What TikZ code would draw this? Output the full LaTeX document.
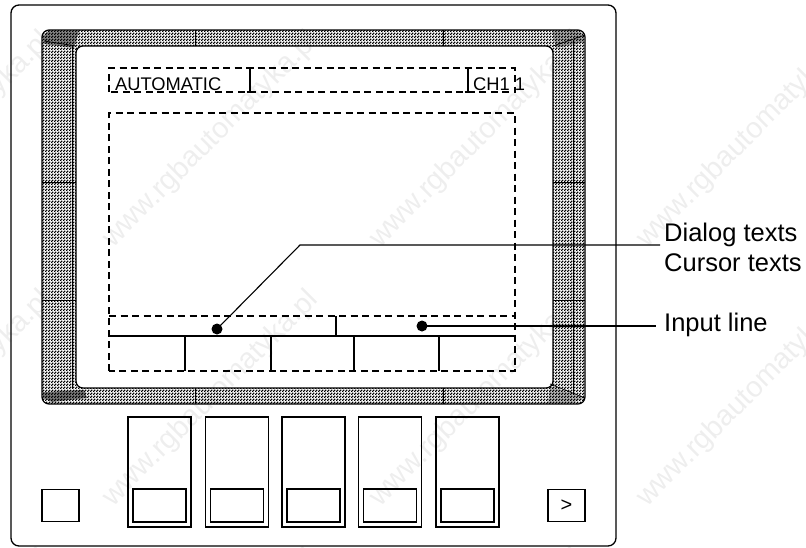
\documentclass[tikz,border=0pt]{standalone}
\usepackage{fontspec}
\setmainfont{Liberation Sans}
\usetikzlibrary{patterns}

\pgfdeclarepatternformonly{bezelcheck}{\pgfqpoint{0pt}{0pt}}{\pgfqpoint{3pt}{3pt}}{\pgfqpoint{3pt}{3pt}}{
  \pgfpathrectangle{\pgfqpoint{0pt}{0pt}}{\pgfqpoint{1.8pt}{1.8pt}}
  \pgfpathrectangle{\pgfqpoint{1.5pt}{1.5pt}}{\pgfqpoint{1.8pt}{1.8pt}}
  \pgfusepath{fill}
}

\tikzset{
  softkey/.style={draw, line width=1.2pt, minimum width=63pt, minimum height=110pt, inner sep=0pt},
  keycap/.style={draw, line width=1.2pt, minimum width=53pt, minimum height=33pt, inner sep=0pt},
  sidekey/.style={draw, line width=1.1pt, minimum width=37pt, minimum height=32pt, inner sep=0pt, font=\fontsize{20}{20}\selectfont},
  pointer/.style={circle, fill=black, minimum size=11pt, inner sep=0pt},
  field/.style={dash pattern=on 7pt off 4.5pt, line width=1.1pt},
  rule/.style={line width=1.1pt},
  callout/.style={anchor=base west, inner sep=0pt, font=\fontsize{25.5}{26}\selectfont},
  screentext/.style={anchor=base west, inner sep=0pt, font=\fontsize{18.3}{18}\selectfont},
  mark text/.style={rotate=45, text=gray!13, font=\fontsize{29}{29}\selectfont}
}

\begin{document}
\begin{tikzpicture}[x=1pt, y=-1pt]
  \useasboundingbox (0,0) rectangle (806,547);

  % Watermark
  \foreach \wx in {-56,211,478,745}
    \foreach \wy in {140,399,658}
      \node[mark text] (wm-\wx-\wy) at (\wx,\wy) {www.rgbautomatyka.pl};

  % Housing
  \draw[line width=1.3pt, rounded corners=8pt] (11,5) rectangle (616,546);

  % Bezel
  \path[pattern=bezelcheck, even odd rule, rounded corners=7pt]
    (42,30) rectangle (585,404) (76,46) rectangle (553,388);
  \draw[line width=1.2pt, rounded corners=7pt] (42,30) rectangle (585,404);
  \draw[line width=1.2pt, rounded corners=7pt] (76,46) rectangle (553,388);
  \draw[line width=0.5pt] (72,46) -- (72,388) (573,40) -- (573,394)
    (195,30) -- (195,46) (443,30) -- (443,46) (195,388) -- (195,404) (443,388) -- (443,404)
    (42,182) -- (76,182) (42,300) -- (76,300) (553,182) -- (585,182) (553,300) -- (585,300);

  % Bezel corners
  \fill[black, opacity=0.45] (48,31) -- (79,31) -- (74,48) -- (44,44) -- (43,36) -- cycle;
  \fill[black, opacity=0.3] (552,31) -- (578,31) -- (584,36) -- (584,42) -- (556,48) -- cycle;
  \fill[black, opacity=0.5] (43,392) -- (84,390) -- (87,398) -- (52,402) -- (43,398) -- cycle;
  \fill[black, opacity=0.25] (550,386) -- (584,398) -- (572,403) -- (548,403) -- cycle;
  \draw[line width=0.7pt] (44,41) -- (76,46) (553,46) -- (585,35) (550,384) -- (585,398);

  % Status line
  \draw[field] (109,92) |- (515,68) -- (515,92) -- cycle;
  \draw[rule] (250,68) -- (250,92) (246.5,68) -- (253.5,68) (246.5,92) -- (253.5,92);
  \draw[rule] (468,68) -- (468,92) (464.5,68) -- (471.5,68) (464.5,92) -- (471.5,92);
  \node[screentext] (automatic) at (115,90) {AUTOMATIC};
  \node[screentext] (channel) at (473,90) {CH1 1};

  % Work area
  \draw[field] (109,371) |- (515,113) -- (515,371) -- cycle;
  \draw[field] (109,316) -- (515,316);
  \draw[rule] (109,336) -- (515,336);
  \draw[rule] (336,316) -- (336,336);
  \foreach \fx in {185,271,354,439}
    \draw[rule] (\fx,336) -- (\fx,371);

  % Callouts
  \node[pointer] (dialog) at (217,329) {};
  \node[pointer] (input) at (422,326) {};
  \coordinate (bend) at (300,245);
  \coordinate (dialog end) at (660,245);
  \coordinate (input end) at (656,326);
  \draw[rule] (dialog.center) -- (bend) -- (dialog end);
  \draw[rule] (input.center) -- (input end);
  \node[callout] (dialog text) at (664,241) {Dialog texts};
  \node[callout] (cursor text) at (664,271) {Cursor texts};
  \node[callout] (input text) at (664,331) {Input line};

  % Keys
  \foreach \kx/\kn in {159.5/1, 237/2, 313.5/3, 390/4, 467.5/5} {
    \node[softkey] (key\kn) at (\kx,472) {};
    \node[keycap] (cap\kn) at (\kx,505.5) {};
  }
  \node[sidekey] (left key) at (60.5,505.5) {};
  \node[sidekey] (right key) at (566.5,505.5) {>};
\end{tikzpicture}
\end{document}
